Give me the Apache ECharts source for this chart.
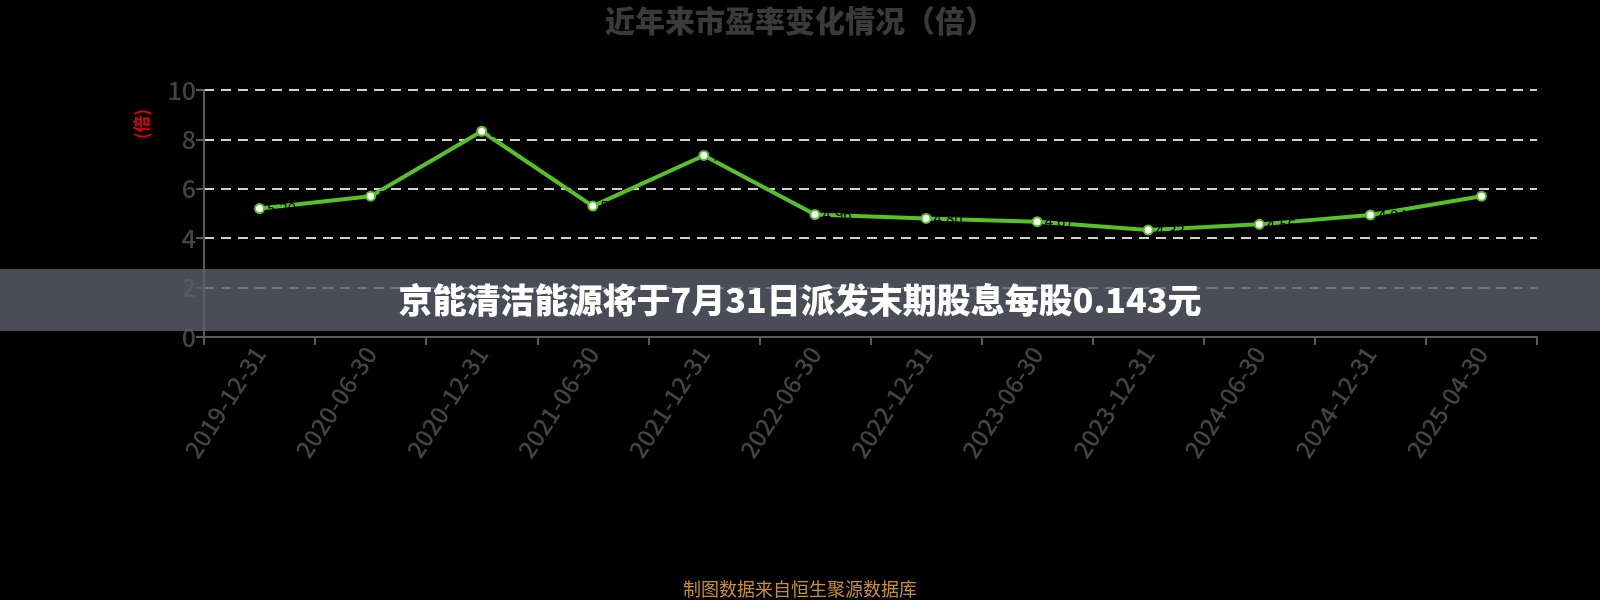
<!DOCTYPE html>
<html>
<head>
<meta charset="utf-8">
<script src="https://cdn.jsdelivr.net/npm/echarts@6/dist/echarts.min.js"></script>
<style>
html,body{margin:0;padding:0;background:#000;}
#c{width:1600px;height:600px;}
</style>
</head>
<body>
<div id="c"></div>
<script>
const categories = ['2019-12-31','2020-06-30','2020-12-31','2021-06-30','2021-12-31','2022-06-30','2022-12-31','2023-06-30','2023-12-31','2024-06-30','2024-12-31','2025-04-30'];
const peValues = [5.2, 5.7, 8.33, 5.3, 7.35, 4.96, 4.8, 4.67, 4.33, 4.56, 4.94, 5.7];
const yTicks = [0, 2, 4, 6, 8, 10];
const titleText = '近年来市盈率变化情况（倍）';
const unitText = '(倍)';
const bannerText = '京能清洁能源将于7月31日派发末期股息每股0.143元';
const footerText = '制图数据来自恒生聚源数据库';

const FONT = '"Noto Sans CJK SC", "Noto Sans", sans-serif';
const chart = echarts.init(document.getElementById('c'), null, {renderer: 'canvas'});
const green = '#56c227';
chart.setOption({
  backgroundColor: '#000',
  animation: false,
  textStyle: {fontFamily: FONT},
  title: {
    text: titleText,
    left: 'center',
    top: 1,
    textStyle: {fontSize: 30, fontWeight: 900, color: '#3a3a3a', fontFamily: FONT}
  },
  grid: {left: 204, right: 63, top: 90, bottom: 263, containLabel: false},
  xAxis: {
    type: 'category',
    data: categories,
    boundaryGap: true,
    axisLine: {show: true, lineStyle: {color: '#5a5a5a', width: 2}},
    axisTick: {show: true, length: 8, lineStyle: {color: '#5a5a5a', width: 2}},
    axisLabel: {rotate: 57, fontSize: 24, fontWeight: 500, color: '#444', margin: 12, fontFamily: FONT},
    splitLine: {show: false}
  },
  yAxis: {
    type: 'value',
    min: yTicks[0],
    max: yTicks[yTicks.length - 1],
    interval: 2,
    axisLine: {show: true, lineStyle: {color: '#5a5a5a', width: 2}},
    axisTick: {show: true, length: 8, lineStyle: {color: '#5a5a5a', width: 2}},
    axisLabel: {fontSize: 25, fontWeight: 500, color: '#444', margin: 8, fontFamily: FONT},
    splitLine: {show: true, lineStyle: {color: '#d0d0d0', width: 2, type: [10, 7]}}
  },
  series: [{
    type: 'line',
    data: peValues,
    symbol: 'circle',
    symbolSize: 9,
    lineStyle: {color: green, width: 4},
    itemStyle: {color: '#fff', borderColor: green, borderWidth: 2},
    label: {show: true, position: 'right', distance: 2, color: '#000', fontSize: 15,
      formatter: p => p.value.toFixed(2)},
    z: 3
  }],
  graphic: [
    {
      type: 'text', x: 142, y: 124, rotation: Math.PI / 2,
      style: {text: unitText, fill: '#e00000', font: 'bold 17px ' + FONT, align: 'center', verticalAlign: 'middle'},
      z: 10
    },
    {
      type: 'rect', left: 0, top: 269, z: 100,
      shape: {width: 1600, height: 62},
      style: {fill: 'rgba(93,96,110,0.8)'}
    },
    {
      type: 'text', x: 800, y: 300, z: 101,
      style: {text: bannerText, fill: '#fff', font: '900 34px ' + FONT, align: 'center', verticalAlign: 'middle'}
    },
    {
      type: 'text', x: 800, y: 589, z: 101,
      style: {text: footerText, fill: '#c8922a', font: '18px ' + FONT, align: 'center', verticalAlign: 'middle'}
    }
  ]
});
</script>
</body>
</html>
